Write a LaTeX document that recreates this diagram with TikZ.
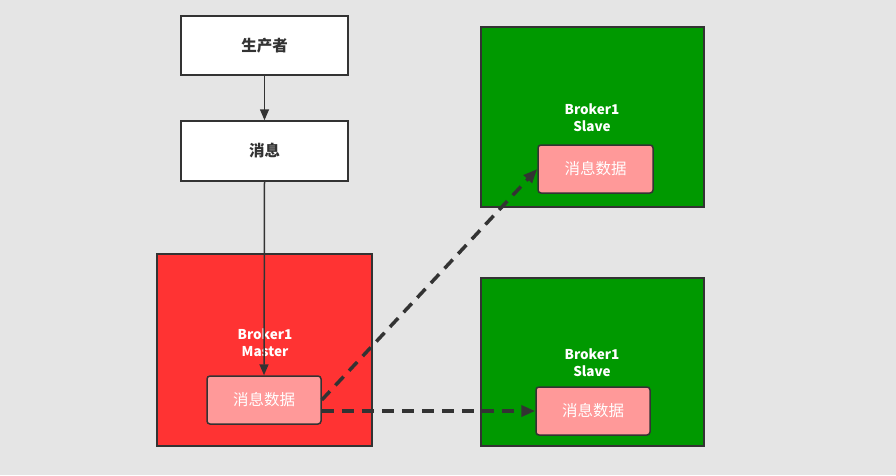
\documentclass[tikz,border=0pt]{standalone}
\usepackage{fontspec}
\setmainfont{Noto Sans CJK SC}
\usetikzlibrary{arrows.meta,positioning,calc}
\definecolor{bggray}{HTML}{E5E5E5}
\definecolor{edge}{HTML}{333333}
\definecolor{masterred}{HTML}{FF3333}
\definecolor{slavegreen}{HTML}{009900}
\definecolor{datapink}{HTML}{FF9999}
\tikzset{
  plain/.style={draw=edge,fill=white,line width=1.5pt,minimum width=167pt,minimum height=59pt,font=\bfseries\fontsize{15.5}{18}\selectfont,text=edge},
  broker/.style={draw=edge,line width=1.5pt},
  brokerlabel/.style={font=\bfseries\fontsize{13.5}{17}\selectfont,text=white,align=center},
  datablock/.style={draw=edge,fill=datapink,rounded corners=3pt,line width=1.5pt,minimum width=114pt,minimum height=48pt,font=\fontsize{15.5}{18}\selectfont,text=white},
  flow/.style={-{Triangle[length=11pt,width=9pt]},draw=edge,line width=1.5pt},
  sync/.style={-{Triangle[length=14pt,width=11pt]},draw=edge,line width=3.5pt,dash pattern=on 12pt off 8pt}
}
\begin{document}
\begin{tikzpicture}[x=1pt,y=-1pt]
\fill[bggray] (0,0) rectangle (896,475);
\useasboundingbox (0,0) rectangle (896,475);
\node[plain] (prod) at (264.5,45.5) {生产者};
\node[plain,minimum height=60pt] (msg) at (264.5,151) {消息};
\node[broker,fill=masterred,minimum width=215pt,minimum height=192pt] (master) at (264.5,350) {};
\node[brokerlabel] (masterlbl) at (265,342.5) {Broker1\\Master};
\node[datablock] (mdata) at (264,400) {消息数据};
\node[broker,fill=slavegreen,minimum width=223pt,minimum height=180pt] (slaveA) at (592.5,117) {};
\node[brokerlabel] (slaveAlbl) at (592,118) {Broker1\\Slave};
\node[datablock,minimum width=115pt] (sdataA) at (595.5,169) {消息数据};
\node[broker,fill=slavegreen,minimum width=223pt,minimum height=168pt] (slaveB) at (592.5,362) {};
\node[brokerlabel] (slaveBlbl) at (592,363) {Broker1\\Slave};
\node[datablock] (sdataB) at (593,411) {消息数据};
\draw[flow] (prod) -- (msg);
\draw[flow] (msg.south) -- (mdata.north);
\draw[sync] (mdata.east) -- (sdataA.west);
\draw[sync] (mdata.east |- sdataB.west) -- (sdataB.west);
\end{tikzpicture}
\end{document}
